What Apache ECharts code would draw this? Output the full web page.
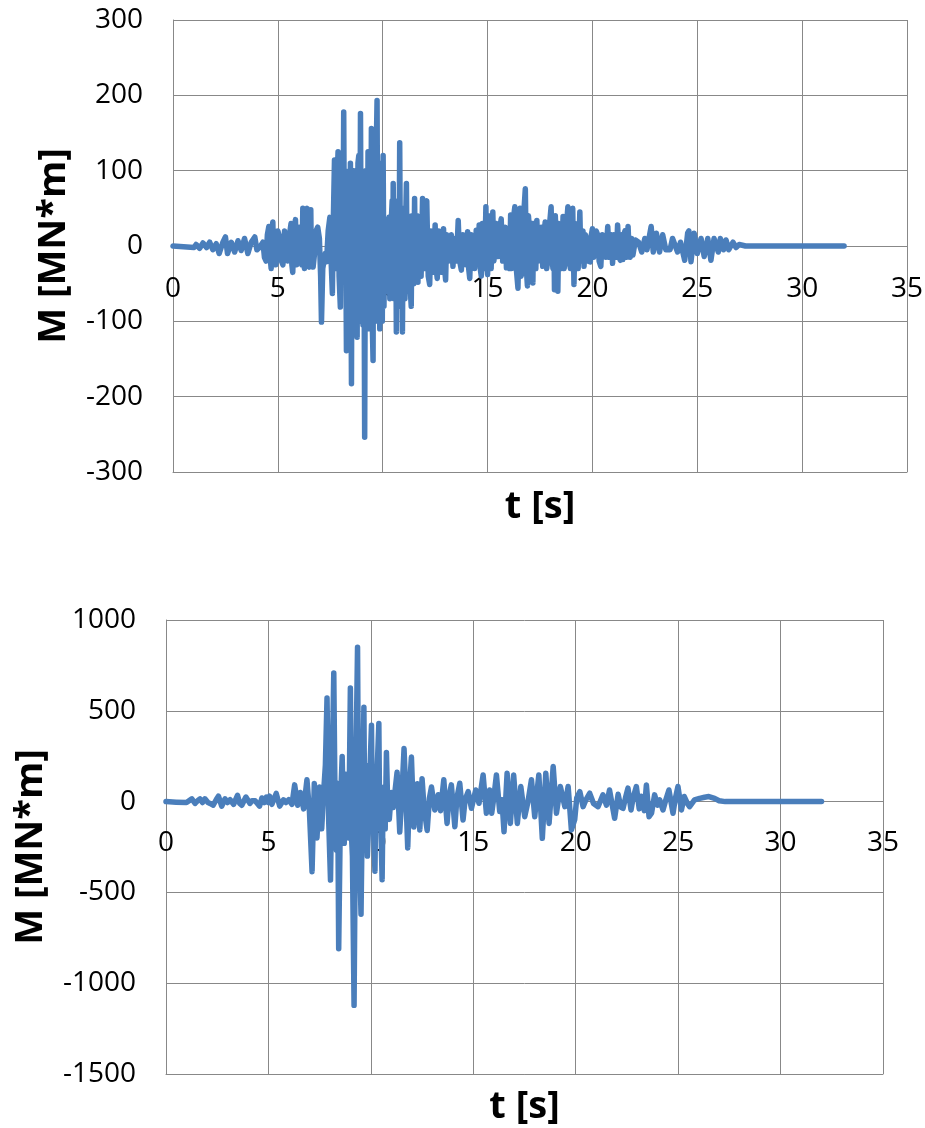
<!DOCTYPE html>
<html><head><meta charset="utf-8">
<script src="https://cdn.jsdelivr.net/npm/echarts@6/dist/echarts.min.js"></script>
<style>html,body{margin:0;padding:0;background:#fff}#c{width:925px;height:1128px}</style>
</head><body><div id="c"></div>
<script>
// Top chart: time [s] and moment [MN*m]
const topT = [0,0.5,1.0,1.1,1.27,1.43,1.6,1.75,1.9,2.06,2.2,2.38,2.5,2.6,2.78,2.94,3.1,3.25,3.41,3.57,3.73,3.9,4.0,4.13,4.29,4.36,4.44,4.5,4.57,4.62,4.68,4.72,4.76,4.8,4.84,4.9,4.95,5.0,5.1,5.17,5.24,5.32,5.4,5.46,5.52,5.58,5.63,5.67,5.71,5.78,5.84,5.9,5.95,6.02,6.1,6.15,6.19,6.23,6.27,6.33,6.4,6.45,6.5,6.54,6.57,6.6,6.63,6.68,6.75,6.82,6.9,6.98,7.04,7.08,7.14,7.2,7.26,7.32,7.4,7.48,7.54,7.6,7.65,7.7,7.74,7.78,7.83,7.87,7.92,7.98,8.02,8.06,8.1,8.14,8.18,8.22,8.27,8.3,8.34,8.37,8.4,8.43,8.46,8.51,8.54,8.57,8.6,8.62,8.66,8.7,8.74,8.78,8.82,8.86,8.9,8.94,8.98,9.02,9.06,9.1,9.14,9.18,9.22,9.26,9.3,9.34,9.38,9.42,9.46,9.5,9.54,9.57,9.6,9.63,9.66,9.7,9.73,9.77,9.8,9.83,9.86,9.9,9.94,9.98,10.02,10.06,10.1,10.14,10.18,10.22,10.26,10.3,10.34,10.38,10.42,10.45,10.48,10.5,10.54,10.58,10.62,10.65,10.69,10.73,10.77,10.81,10.85,10.88,10.91,10.94,10.98,11.02,11.06,11.1,11.13,11.17,11.2,11.24,11.28,11.32,11.36,11.4,11.44,11.48,11.52,11.56,11.6,11.64,11.68,11.72,
  11.76,11.83,11.9,11.95,12.0,12.05,12.1,12.17,12.24,12.3,12.35,12.42,12.5,12.55,12.6,12.67,12.75,12.82,12.9,12.95,13.0,13.05,13.1,13.15,13.2,13.27,13.35,13.4,13.45,13.52,13.6,13.67,13.75,13.82,13.9,13.97,14.05,14.1,14.15,14.22,14.3,14.38,14.46,14.5,14.55,14.6,14.65,14.7,14.75,14.8,14.86,14.92,14.96,15.0,15.05,15.1,15.17,15.25,15.3,15.35,15.42,15.5,15.57,15.65,15.72,15.78,15.84,15.9,15.95,16.0,16.05,16.1,16.15,16.2,16.25,16.3,16.37,16.45,16.5,16.55,16.6,16.65,16.72,16.8,16.85,16.9,16.95,17.0,17.04,17.08,17.12,17.16,17.2,17.25,17.3,17.35,17.42,17.5,17.56,17.63,17.7,17.75,17.82,17.9,17.96,18.03,18.08,18.12,18.16,18.19,18.23,18.27,18.31,18.35,18.4,18.45,18.52,18.6,18.65,18.7,18.77,18.83,18.9,18.95,19.0,19.06,19.12,19.18,19.25,19.32,19.4,19.45,19.5,19.55,19.6,19.66,19.72,19.8,19.9,19.95,20.0,20.06,20.12,20.18,20.25,20.32,20.4,20.47,20.55,20.64,20.73,20.8,20.85,20.9,20.96,21.02,21.08,21.14,21.2,21.27,21.33,21.4,21.45,21.5,21.55,21.62,21.7,21.75,21.8,21.87,21.93,
  22.05,22.2,22.35,22.5,22.6,22.8,22.9,23.05,23.2,23.35,23.5,23.7,23.82,24.06,24.2,24.4,24.54,24.6,24.7,24.85,25.0,25.18,25.33,25.5,25.65,25.8,26.0,26.1,26.25,26.37,26.5,26.7,26.85,27.0,27.3,27.5,32];
const topM = [0,-1,-2,2,-3,4,-2,5,-5,3,-10,5,12,-10,5,-8,7,-6,10,-10,5,12,-5,-2,5,-15,-20,15,26,-10,-30,20,32,-20,20,-25,-15,20,10,-20,-25,20,22,-20,-15,20,30,-25,-35,25,35,-25,-20,25,20,-25,50,-20,-30,40,50,-25,-28,30,48,-25,10,-28,-10,20,25,10,-40,-101,-30,-20,-10,-21,20,38,-20,-63,40,114,-30,20,90,125,-40,-81,50,60,-20,178,-40,100,-139,60,80,-90,30,-100,110,-183,60,40,-95,100,-100,90,-60,-121,110,120,-100,176,-80,100,-105,60,-254,100,80,-100,125,-110,110,-90,156,-100,-152,120,100,-100,-80,140,193,-90,100,-30,-110,110,80,-100,120,-80,30,-45,35,-60,30,38,-70,-20,40,60,-60,83,-70,-40,40,-114,40,60,-80,137,-60,-50,40,-114,50,40,-70,40,83,-60,-40,40,30,-60,-80,40,20,-50,63,-40,-30,40,-48,30,
  20,-40,63,-20,-30,55,60,-40,-51,20,10,-35,28,-30,-43,20,10,-35,23,-30,-45,15,10,-20,-10,15,-27,10,5,-20,34,-20,-32,15,5,-25,19,-30,-43,15,5,-30,21,-25,-20,28,-30,-40,30,10,-30,52,-20,-38,40,10,-30,45,-20,-5,30,-14,20,36,-20,-10,25,-29,20,10,-30,41,-30,-20,40,52,-30,-56,20,50,-40,-30,40,76,-30,-53,40,20,-30,-40,30,-49,30,20,-30,34,-20,-10,25,-27,20,32,-30,-10,30,52,-20,-30,30,-58,40,10,-30,-60,30,15,-30,39,-30,-20,30,52,-20,-30,30,50,-51,30,10,-30,45,-20,-10,20,-27,15,10,-20,-21,15,23,-15,-5,20,15,-20,-27,15,5,-15,26,-15,-5,15,-23,15,10,-15,28,-15,-19,15,-18,15,20,-15,26,-10,-15,10,-12,
  8,5,-8,10,-5,26,-8,17,-8,15,-5,-5,10,-8,5,-19,17,20,-21,17,-10,10,-14,10,-19,10,-8,10,-5,8,-5,5,-2,2,0,0,0];

// Bottom chart: time [s] and moment [MN*m]
const botT = [0,0.5,1.0,1.26,1.42,1.55,1.66,1.78,1.9,2.05,2.15,2.3,2.45,2.56,2.72,2.88,3.0,3.13,3.3,3.49,3.6,3.7,3.9,4.1,4.2,4.35,4.57,4.68,4.8,4.9,5.0,5.06,5.17,5.38,5.55,5.74,5.85,5.99,6.15,6.28,6.43,6.56,6.72,6.88,7.0,7.13,7.24,7.37,7.5,7.6,7.7,7.78,7.86,7.94,8.03,8.1,8.19,8.26,8.32,8.38,8.43,8.52,8.6,8.66,8.7,8.78,8.84,8.92,9.0,9.06,9.1,9.18,9.27,9.35,9.4,9.45,9.52,9.6,9.66,9.7,9.75,9.83,9.9,9.95,10.03,10.08,10.12,10.2,10.25,10.3,10.39,10.43,10.47,10.55,10.6,10.65,10.7,10.76,10.83,10.9,11.0,11.09,11.28,11.41,11.52,11.62,11.72,11.8,11.9,11.98,12.1,12.2,12.27,12.39,12.5,12.6,12.75,12.86,12.96,13.12,13.2,13.29,13.4,13.56,13.72,13.82,13.93,14.1,14.2,14.34,14.5,14.6,14.75,14.91,15.12,15.28,15.48,15.64,15.8,15.9,16.0,16.13,16.29,16.4,16.5,16.65,16.81,16.97,17.15,17.32,17.51,17.67,17.84,18.0,18.1,18.2,18.37,18.54,18.7,18.9,19.06,19.25,19.47,19.63,19.79,19.95,20.05,20.2,20.36,20.5,20.68,20.87,21.09,21.33,21.5,21.65,21.9,22.07,22.2,22.31,22.45,22.55,22.7,22.8,22.96,23.1,23.2,23.35,23.45,23.58,23.7,23.85,24.0,24.1,24.26,24.4,24.55,24.75,24.85,24.99,25.16,25.3,25.45,25.56,25.8,26.05,26.29,26.5,26.78,27.0,27.3,32];
const botM = [0,-3,-5,15,-10,5,15,-5,15,-5,-10,-20,10,30,-25,15,-5,10,-15,35,-10,-20,25,-10,5,5,-25,20,-5,25,-5,30,-15,45,-25,10,-5,10,-15,92,-20,50,-40,120,-50,-386,100,-200,80,-150,60,200,570,-100,-432,100,708,-100,-267,100,-810,0,248,-100,-230,150,100,-200,625,-200,-300,-1122,200,850,-100,-300,-620,100,520,-100,200,-300,-100,150,420,-150,-100,-383,100,150,430,-100,-50,-430,50,80,-150,270,-50,-98,50,-33,162,-168,50,292,0,-255,100,245,-140,50,98,-156,126,-40,-159,20,80,-46,0,38,-50,120,-120,30,92,-138,20,101,-101,10,55,-37,64,-9,147,-64,64,-64,20,147,-55,10,-166,156,-120,147,-120,83,-83,0,120,-83,40,147,-202,156,-120,193,-64,83,-28,83,-156,-100,20,55,-28,10,46,-10,-28,37,-20,64,-92,40,-30,-37,30,74,-46,20,83,-40,30,-50,92,-83,-64,37,-20,10,-46,10,64,-64,10,83,-46,28,-10,-28,9,18,24,28,18,5,0,0];

const xName = 't [s]';
const yName = 'M [MN*m]';

const FONT = 'Open Sans';
const GRID_COLOR = '#888888';
const LINE_COLOR = '#4A7EBB';

// labelMargin is negative so the tick labels sit just under the zero line, as in the reference
function xAxisOf(gi, labelMargin, nameGap) {
  return {
    type: 'value', gridIndex: gi, min: 0, max: 35, interval: 5, position: 'bottom',
    axisLine: { show: true, onZero: false, lineStyle: { color: GRID_COLOR, width: 1 } },
    axisTick: { show: false },
    axisLabel: { margin: labelMargin, fontSize: 28, color: '#000', fontFamily: FONT,
                 showMinLabel: true, showMaxLabel: true, hideOverlap: false },
    splitLine: { show: true, lineStyle: { color: GRID_COLOR, width: 1 } },
    name: xName, nameLocation: 'middle', nameGap: nameGap,
    nameTextStyle: { fontSize: 38, fontWeight: 'bold', color: '#000', fontFamily: FONT }
  };
}
function yAxisOf(gi, min, max, interval, nameGap) {
  return {
    type: 'value', gridIndex: gi, min: min, max: max, interval: interval,
    axisLine: { show: true, onZero: false, lineStyle: { color: GRID_COLOR, width: 1 } },
    axisTick: { show: false },
    axisLabel: { margin: 30, fontSize: 28, color: '#000', fontFamily: FONT,
                 formatter: v => String(v) },
    splitLine: { show: true, lineStyle: { color: GRID_COLOR, width: 1 } },
    name: yName, nameLocation: 'middle', nameGap: nameGap, nameRotate: 90,
    nameTextStyle: { fontSize: 38, fontWeight: 'bold', color: '#000', fontFamily: FONT }
  };
}
function seriesOf(gi, T, M) {
  return {
    type: 'line', xAxisIndex: gi, yAxisIndex: gi,
    data: T.map((t, i) => [t, M[i]]),
    showSymbol: false, symbol: 'none',
    lineStyle: { color: LINE_COLOR, width: 5.5, cap: 'round', join: 'round' },
    z: 3
  };
}

const chart = echarts.init(document.getElementById('c'), null, { renderer: 'canvas' });
chart.setOption({
  animation: false,
  backgroundColor: '#fff',
  grid: [
    { left: 173, top: 20, width: 734, height: 452, containLabel: false, outerBoundsMode: 'none' },
    { left: 166, top: 620, width: 717, height: 454, containLabel: false, outerBoundsMode: 'none' }
  ],
  xAxis: [xAxisOf(0, -197, 16), xAxisOf(1, -245, 14)],
  yAxis: [yAxisOf(0, -300, 300, 100, 100), yAxisOf(1, -1500, 1000, 500, 116)],
  series: [seriesOf(0, topT, topM), seriesOf(1, botT, botM)]
});
</script>
</body></html>
